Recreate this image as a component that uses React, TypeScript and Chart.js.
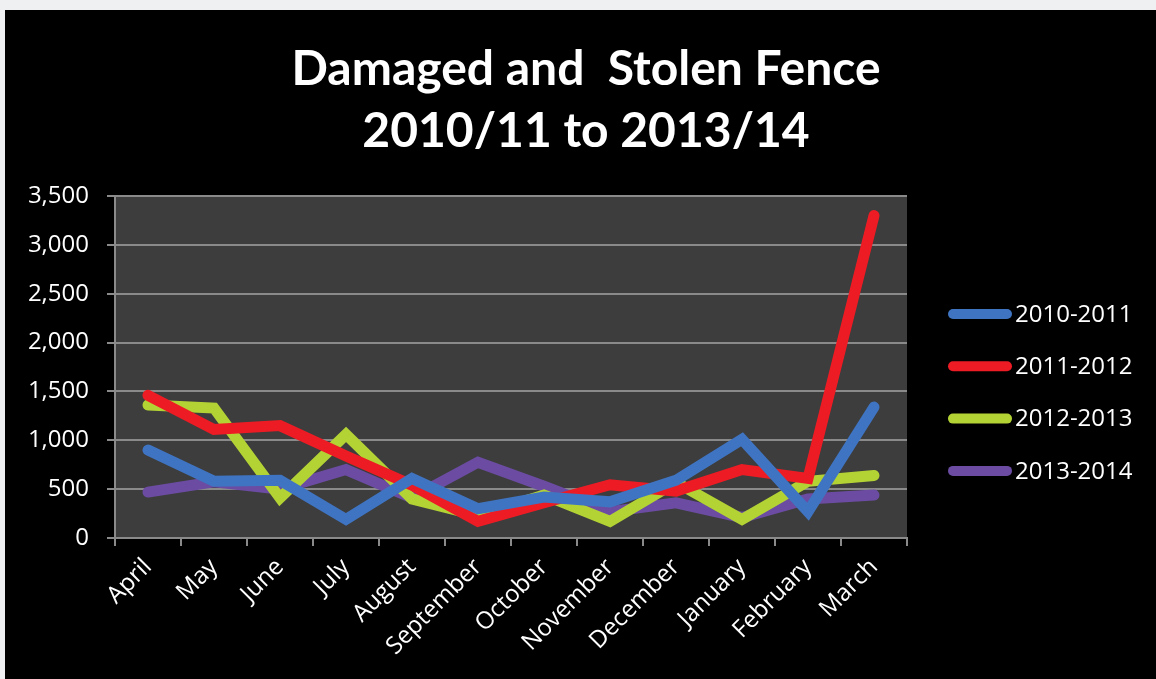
import React, { useEffect, useRef } from "react";
import { Chart, registerables } from "chart.js";

Chart.register(...registerables);

const titleLines = ["Damaged and  Stolen Fence", "2010/11 to 2013/14"];
const months = ["April", "May", "June", "July", "August", "September", "October", "November", "December", "January", "February", "March"];
const seriesNames = ["2010-2011", "2011-2012", "2012-2013", "2013-2014"];
const series2010 = [900, 580, 590, 190, 610, 300, 420, 370, 590, 1010, 270, 1340];
const series2011 = [1460, 1110, 1150, 840, 540, 170, 360, 545, 480, 700, 610, 3300];
const series2012 = [1360, 1330, 410, 1060, 400, 230, 440, 170, 570, 190, 580, 640];
const series2013 = [470, 575, 500, 700, 410, 775, 530, 270, 360, 210, 400, 440];
const seriesColors = ["#3f74c2", "#ed1c24", "#b3d335", "#6b4ca2"];

const FONT = "'Open Sans', sans-serif";
const TITLE_FONT = "bold 48px Lato, sans-serif";

const plotBg = {
  id: "plotBg",
  beforeDraw(chart: any) {
    const { ctx, chartArea } = chart;
    ctx.save();
    ctx.fillStyle = "#3d3d3d";
    ctx.fillRect(chartArea.left, chartArea.top, chartArea.right - chartArea.left, chartArea.bottom - chartArea.top);
    ctx.restore();
  },
};

const titleBlock = {
  id: "titleBlock",
  afterDraw(chart: any) {
    const { ctx } = chart;
    ctx.save();
    ctx.fillStyle = "#ffffff";
    ctx.font = TITLE_FONT;
    ctx.textAlign = "center";
    ctx.textBaseline = "alphabetic";
    titleLines.forEach((line, i) => {
      ctx.fillText(line, 581, 75 + i * 62);
    });
    ctx.restore();
  },
};

const lineLegend = {
  id: "lineLegend",
  afterDraw(chart: any) {
    const { ctx } = chart;
    ctx.save();
    chart.data.datasets.forEach((ds: any, i: number) => {
      const y = 304 + i * 52.3;
      ctx.strokeStyle = ds.borderColor;
      ctx.lineWidth = 10;
      ctx.lineCap = "round";
      ctx.beginPath();
      ctx.moveTo(948, y);
      ctx.lineTo(1002, y);
      ctx.stroke();
      ctx.fillStyle = "#ffffff";
      ctx.font = `24px ${FONT}`;
      ctx.textBaseline = "middle";
      ctx.textAlign = "left";
      ctx.fillText(ds.label, 1010, y + 1);
    });
    ctx.restore();
  },
};

export default function App() {
  const ref = useRef<HTMLCanvasElement>(null);
  useEffect(() => {
    document.body.style.margin = "0";
    document.body.style.background = "#eef0f2";
    let chart: any = null;
    let cancelled = false;
    const data = [series2010, series2011, series2012, series2013];
    const build = () => {
      if (cancelled || !ref.current) return;
      chart = new Chart(ref.current, {
        type: "line",
        data: {
          labels: months,
          datasets: seriesNames.map((name, i) => ({
            label: name,
            data: data[i],
            borderColor: seriesColors[i],
            backgroundColor: seriesColors[i],
            borderWidth: 11,
            pointRadius: 0,
            tension: 0,
            borderCapStyle: "round",
            borderJoinStyle: "miter",
            fill: false,
          })),
        },
        options: {
          animation: false,
          responsive: false,
          maintainAspectRatio: false,
          layout: { padding: { left: 0, right: 249, top: 186, bottom: 0 } },
          plugins: {
            legend: { display: false },
            tooltip: { enabled: false },
            title: { display: false },
          },
          scales: {
            x: {
              offset: true,
              grid: { display: true, drawOnChartArea: false, drawTicks: true, tickLength: 8, color: "#8a8a8a", lineWidth: 2, offset: true },
              border: { display: true, color: "#8a8a8a", width: 2 },
              ticks: { color: "#ffffff", font: { family: FONT, size: 24 }, minRotation: 45, maxRotation: 45, padding: 7, autoSkip: false },
              afterFit: (s: any) => { s.height = 141; },
            },
            y: {
              min: 0,
              max: 3500,
              grid: { color: "#8a8a8a", lineWidth: 2, tickLength: 8, drawTicks: true },
              border: { display: true, color: "#8a8a8a", width: 2 },
              ticks: {
                stepSize: 500,
                color: "#ffffff",
                padding: 18,
                font: { family: FONT, size: 24 },
                callback: (v: any) => Number(v).toLocaleString("en-US"),
              },
              afterFit: (s: any) => { s.width = 110; },
            },
          },
        },
        plugins: [plotBg, titleBlock, lineLegend],
      });
    };
    const fonts: any = (document as any).fonts;
    if (fonts && fonts.load) {
      Promise.all([
        fonts.load(`24px "Open Sans"`),
        fonts.load(TITLE_FONT),
      ]).then(build, build);
    } else {
      build();
    }
    return () => {
      cancelled = true;
      if (chart) chart.destroy();
    };
  }, []);
  return (
    <div style={{ position: "relative", width: 1156, height: 679, overflow: "hidden", background: "#eef0f2" }}>
      <div style={{ position: "absolute", left: 5, top: 10, width: 1151, height: 669, background: "#000000" }}>
        <canvas ref={ref} width={1151} height={669} style={{ display: "block", width: 1151, height: 669 }} />
      </div>
    </div>
  );
}
